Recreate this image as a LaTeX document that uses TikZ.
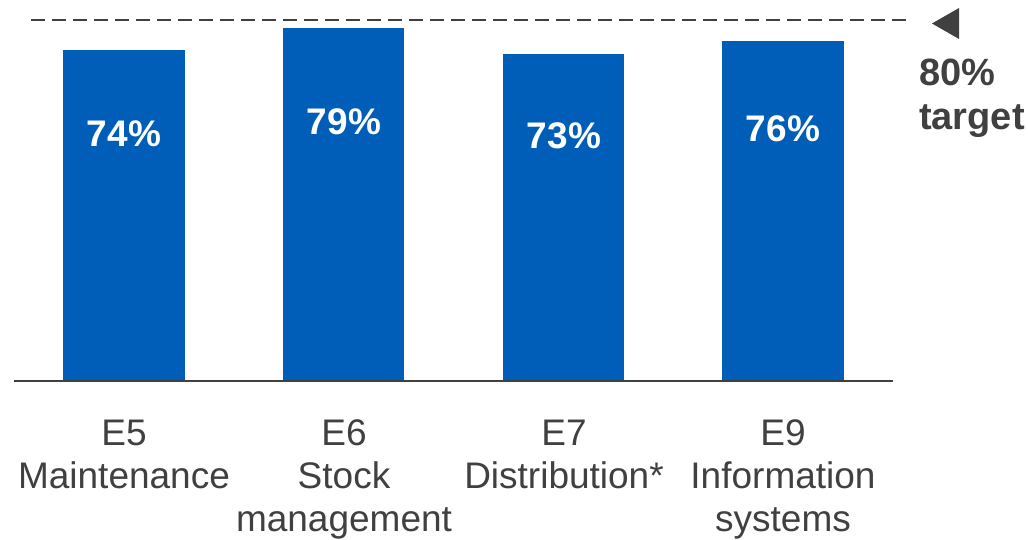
\documentclass[tikz,border=0pt]{standalone}
\usepackage{fontspec}
\setmainfont{Liberation Sans}
\definecolor{barblue}{HTML}{005EB8}
\definecolor{ink}{HTML}{404040}
\begin{document}
\begin{tikzpicture}[x=1pt,y=-1pt,
  bar/.style={fill=barblue,draw=none},
  val/.style={text=white,font=\fontsize{37}{44}\selectfont\bfseries,inner sep=0pt,anchor=base},
  cat/.style={text=ink,font=\fontsize{37}{43}\selectfont,inner sep=0pt,align=center,anchor=base},
  tgt/.style={text=ink,font=\fontsize{38}{44}\selectfont\bfseries,inner sep=0pt,align=left,anchor=base west}]
\useasboundingbox[fill=white] (0,0) rectangle (1028,540);
% target line
\coordinate (d1) at (31,20);
\coordinate (d2) at (910,20);
\draw[ink,line width=2pt,dash pattern=on 14pt off 7pt] (d1) -- (d2);
\fill[ink] (932,23.5) -- (959,8) -- (959,39) -- cycle;
\node[tgt] (target) at (919,130) {80\%\\target};
% bars
\fill[bar] (63,50) rectangle (185,381);
\fill[bar] (283,28) rectangle (404,381);
\fill[bar] (503,54) rectangle (624,381);
\fill[bar] (722,41) rectangle (844,381);
\node[val] (v1) at (124,147) {74\%};
\node[val] (v2) at (344,135) {79\%};
\node[val] (v3) at (564,149) {73\%};
\node[val] (v4) at (783,142) {76\%};
% axis
\coordinate (a1) at (14,381);
\coordinate (a2) at (893,381);
\draw[ink,line width=2pt] (a1) -- (a2);
% categories
\node[cat] (c1) at (124,488) {E5\\Maintenance};
\node[cat] (c2) at (344,531) {E6\\Stock\\management};
\node[cat] (c3) at (564,488) {E7\\Distribution*};
\node[cat] (c4) at (783,531) {E9\\Information\\systems};
\end{tikzpicture}
\end{document}
